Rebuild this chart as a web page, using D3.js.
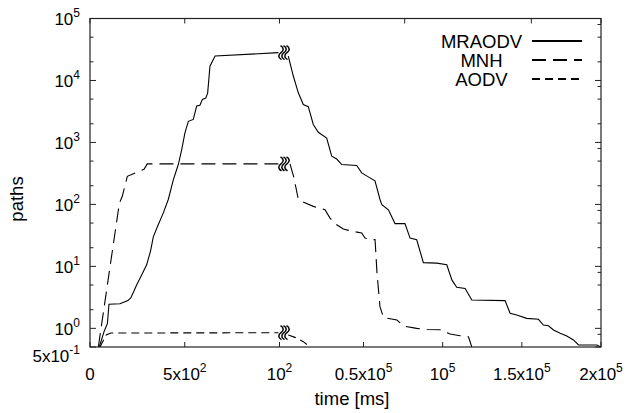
<!DOCTYPE html>
<html>
<head>
<meta charset="utf-8">
<script src="https://cdn.jsdelivr.net/npm/d3@7"></script>
<style>
  body { margin: 0; background: #fff; }
  svg { display: block; font-family: "Liberation Sans", Arial, Helvetica, sans-serif; }
</style>
</head>
<body>
<script>
// ---------- data ----------
const seriesNames = ["MRAODV", "MNH", "AODV"];

// MRAODV (solid)
const mraodvTime = [49, 75, 92, 100, 158, 200, 215, 232, 246, 270, 299, 320, 334, 360, 387, 413, 440, 466, 484, 501, 519, 545, 563, 580, 593, 611, 621, 633, 660, 994,
  6130, 9050, 11970, 14880, 17800, 20720, 23630, 28530, 31450, 34370, 37290, 46040, 48950, 54100, 57260, 60420, 61580, 65740, 69900, 76200, 79400, 83600, 87800,
  96300, 102600, 105800, 108900, 114200, 118400, 139400, 142600, 146800, 153100, 160500, 163600, 166800, 170000, 174200, 178400, 182600, 185800, 197400, 200000];
const mraodvPaths = [0.5, 0.9, 1.2, 2.45, 2.5, 2.8, 3.1, 4.0, 5.0, 7.0, 10.6, 18, 30, 47, 73, 120, 251, 440, 767, 1430, 2190, 2350, 3870, 3980, 4930, 5200, 6320, 17000, 24800, 28100,
  24800, 11800, 6320, 4100, 3780, 1950, 1460, 1180, 600, 540, 440, 425, 323, 268, 240, 120, 99, 82, 49, 49, 28.6, 26.9, 11.5,
  11.3, 10.6, 6.05, 4.6, 4.4, 2.87, 2.8, 1.75, 1.64, 1.45, 1.40, 1.13, 1.10, 0.94, 0.83, 0.75, 0.65, 0.54, 0.54, 0.5];

// MNH (long dash)
const mnhTime = [44, 100, 155, 170, 197, 246, 285, 302, 994,
  7120, 9450, 11970, 13950, 20720, 27540, 30460, 33370, 38220, 44050, 48950, 50950, 54700, 57300, 58500, 60400, 62600, 71100, 75300, 83600, 90000, 98400, 104700, 111000, 116300, 118400];
const mnhPaths = [0.5, 7.5, 105, 134, 284, 330, 370, 451, 451,
  450, 268, 120, 112, 93, 82, 60, 49, 40, 36.6, 34.5, 28.6, 27, 27, 8, 2.24, 1.5, 1.36, 1.09, 1.0, 0.96, 0.95, 0.81, 0.76, 0.73, 0.5];

// AODV (short dash)
const aodvTime = [53, 85, 110, 994, 6130, 10040, 14880, 18800];
const aodvPaths = [0.5, 0.78, 0.84, 0.85, 0.78, 0.715, 0.61, 0.5];

// axis breaks / ticks
const breakTime = 1000;
const xTickValues = [0, 500, 1000, 50000, 100000, 150000, 200000];
const xTickLabels = [["0", ""], ["5x10", "2"], ["10", "2"], ["0.5x10", "5"], ["10", "5"], ["1.5x10", "5"], ["2x10", "5"]];
const xTopTickValues = [0, 500, 1000, 76000, 156000, 200000];
const yTickValues = [0.5, 1, 10, 100, 1000, 10000, 100000];
const yTickLabels = [["5x10", "-1"], ["10", "0"], ["10", "1"], ["10", "2"], ["10", "3"], ["10", "4"], ["10", "5"]];
const yMinorLeft = [2, 5, 20, 50, 200, 500, 2000, 5000, 20000, 50000];
const yMinorRight = [0.8, 2, 5, 8, 20, 50, 80, 200, 500, 800, 2000, 5000, 8000, 20000, 50000, 80000];

// ---------- layout ----------
const W = 629, H = 413;
const L = 90, R = 601, T = 18.5, B = 347;

const svg = d3.select("body").append("svg").attr("width", W).attr("height", H);

const x = d3.scaleLinear().domain([0, breakTime, 50000, 200000]).range([L, 279.5, 363.5, R]);
const y = d3.scaleLog().domain([0.5, 1e5]).range([B, T]);

svg.append("clipPath").attr("id", "clip").append("rect")
  .attr("x", L).attr("y", T - 1).attr("width", R - L).attr("height", B - T + 1);

const series = [
  { name: "MRAODV", t: mraodvTime, v: mraodvPaths, dash: null },
  { name: "MNH", t: mnhTime, v: mnhPaths, dash: "14,7" },
  { name: "AODV", t: aodvTime, v: aodvPaths, dash: "8,5" }
];

const line = d3.line().x(d => x(d[0])).y(d => y(d[1]));
const g = svg.append("g").attr("clip-path", "url(#clip)");

series.forEach(s => {
  const pts = s.t.map((t, i) => [t, s.v[i]]);
  const before = pts.filter(p => p[0] <= breakTime);
  const after = pts.filter(p => p[0] > breakTime);
  [before, after].forEach(seg => {
    g.append("path").attr("d", line(seg)).attr("fill", "none")
      .attr("stroke", "#000").attr("stroke-width", 1.1)
      .attr("stroke-dasharray", s.dash);
  });
  // break marks
  const bv = before[before.length - 1][1];
  const cx = x(breakTime) + 4.5, cy = y(bv);
  [-3, 0, 3].forEach(dx => {
    const px = cx + dx;
    svg.append("path")
      .attr("d", `M${px - 0.5},${cy - 7} C${px + 3},${cy - 5} ${px + 3},${cy - 2} ${px},${cy} C${px - 3},${cy + 2} ${px - 3},${cy + 5} ${px + 0.5},${cy + 7}`)
      .attr("fill", "none").attr("stroke", "#000").attr("stroke-width", 1.5);
  });
});

// ---------- frame & ticks ----------
const axisColor = "#222";
svg.append("rect").attr("x", L).attr("y", T).attr("width", R - L).attr("height", B - T)
  .attr("fill", "none").attr("stroke", axisColor).attr("stroke-width", 1.2);

const ticks = svg.append("g").attr("stroke", axisColor).attr("stroke-width", 1);
xTickValues.forEach(v => {
  ticks.append("line").attr("x1", x(v)).attr("x2", x(v)).attr("y1", B).attr("y2", B - 5);
});
xTopTickValues.forEach(v => {
  ticks.append("line").attr("x1", x(v)).attr("x2", x(v)).attr("y1", T).attr("y2", T + 5);
});
yTickValues.forEach(v => {
  ticks.append("line").attr("x1", L).attr("x2", L + 6).attr("y1", y(v)).attr("y2", y(v));
  ticks.append("line").attr("x1", R).attr("x2", R - 6).attr("y1", y(v)).attr("y2", y(v));
});
yMinorLeft.forEach(v => {
  ticks.append("line").attr("x1", L).attr("x2", L + 3.5).attr("y1", y(v)).attr("y2", y(v));
});
yMinorRight.forEach(v => {
  ticks.append("line").attr("x1", R).attr("x2", R - 3.5).attr("y1", y(v)).attr("y2", y(v));
});

// ---------- tick labels ----------
function supLabel(sel, base, sup, baseSize, supSize) {
  sel.append("tspan").text(base).attr("font-size", baseSize);
  if (sup) sel.append("tspan").text(sup).attr("font-size", supSize).attr("dy", -8);
}
yTickValues.forEach((v, i) => {
  const t = svg.append("text").attr("x", 80).attr("y", y(v) + (v === 0.5 ? 15 : 6.5))
    .attr("text-anchor", "end").attr("fill", "#000");
  supLabel(t, yTickLabels[i][0], yTickLabels[i][1], 17, 12);
});
xTickValues.forEach((v, i) => {
  const t = svg.append("text").attr("x", x(v)).attr("y", 380)
    .attr("text-anchor", "middle").attr("fill", "#000");
  supLabel(t, xTickLabels[i][0], xTickLabels[i][1], 17, 12);
});

// axis titles
svg.append("text").attr("x", 352).attr("y", 405).attr("text-anchor", "middle")
  .attr("font-size", 18.5).text("time [ms]");
svg.append("text").attr("transform", "translate(23,199) rotate(-90)").attr("text-anchor", "middle")
  .attr("font-size", 18.5).text("paths");

// ---------- legend ----------
series.forEach((s, i) => {
  const ly = 41 + i * 19;
  svg.append("text").attr("x", 481.5).attr("y", ly + 6.5).attr("text-anchor", "middle")
    .attr("font-size", 18.5).text(s.name);
  svg.append("line").attr("x1", 532).attr("x2", 582).attr("y1", ly).attr("y2", ly)
    .attr("stroke", "#000").attr("stroke-width", 2).attr("stroke-dasharray", s.dash);
});
</script>
</body>
</html>
